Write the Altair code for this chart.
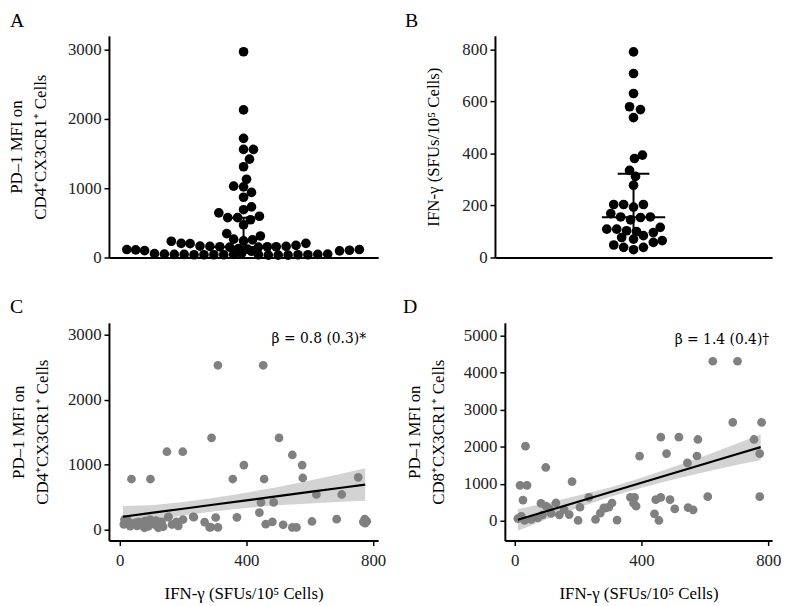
import altair as alt
import pandas as pd

FONT = "Liberation Serif"

# ---------------- Panel A: PD-1 MFI on CD4+CX3CR1+ cells (dot plot) ----------------
a_offset = [0, 0, 0, 0, 1.0, 0.6, 0, 0.3, -1.0, 0, 0.8, 0, 0.8, 0, -2.5,
            -1.6, -0.6, 0.7, 1.6, 0, -1.7, 1.7, -1.0, 0, 0.9,
            -7.3, -6.3, -5.4, -4.4, -3.4, -2.4, -1.4, -0.5,
            0.4, -0.2, 0.8,
            1.5, 2.4, 3.3, 4.3, 5.3, 6.3,
            -11.8, -10.9, -10.0, 9.7, 10.7, 11.7,
            -9, -8, -7, -6, -5, -4, -3, -2, -1,
            1.5, 2.5, 3.5, 4.5, 5.5, 6.5, 7.5, 8.5]
a_mfi = [2970, 2130, 1720, 1560, 1560, 1420, 1310, 1130, 1030, 1020, 940, 870, 730, 690, 645,
         575, 575, 545, 595, 470, 345, 310, 265, 240, 255,
         235, 205, 200, 165, 160, 155, 150, 130,
         120, 60, 90,
         150, 155, 155, 160, 175, 205,
         115, 110, 100, 95, 105, 115,
         55, 50, 45, 45, 40, 40, 40, 40, 45,
         40, 35, 35, 35, 40, 40, 45, 50]
a_stat_name = ["Q1", "Median", "Q3"]
a_stat_value = [45, 150, 575]

# ---------------- Panel B: IFN-gamma SFUs (dot plot) ----------------
b_offset = [0, 0, 0, -0.4, 0.7, 0, 0.9, 0.1, -0.4, 0.2, 0,
            -2, -1, 0, 1,
            -2.3, -1.3, -0.3, 0.7, 1.7,
            -2.7, -1.7, -0.7, 0.3, 2.0, 2.7,
            -1.2, 0, 1.0,
            -2.0, -1.0, 0, 1.0, 2.0, 2.9]
b_sfu = [791, 708, 631, 580, 569, 538, 394, 381, 335, 312, 278,
         204, 204, 194, 204,
         169, 156, 145, 154, 156,
         109, 109, 103, 100, 96, 116,
         77, 71, 84,
         48, 39, 30, 39, 58, 65]
b_stat_name = ["Q1", "Median", "Q3"]
b_stat_value = [75, 155, 322]

cap_half = [1.6, 3.2, 1.6]

# ---------------- Panel C: CD4 PD-1 MFI vs IFN-gamma ----------------
c_ifn = [310, 453, 290, 503, 149, 199, 545, 392, 576, 37, 97, 357, 456, 578, 753, 621, 701, 446, 486, 441,
         232, 154, 303, 370, 685, 607, 774, 769, 482, 461, 516, 545, 558, 284, 310, 268, 287, 234, 200, 179,
         153, 132, 122, 137, 96, 78, 65, 49, 33, 13, 15, 80, 23, 110, 55, 90, 115, 165, 185, 30,
         60, 775, 780]
c_mfi = [2530, 2530, 1414, 1414, 1200, 1200, 1150, 995, 995, 780, 780, 780, 780, 796, 806, 542, 542, 420, 420, 262,
         198, 198, 188, 190, 162, 127, 162, 122, 122, 86, 76, 35, 35, 35, 35, 117, 41, 193, 157, 122,
         193, 122, 30, 46, 157, 30, 81, 107, 56, 81, 157, 137, 157, 80, 60, 50, 140, 80, 60, 110,
         120, 100, 130]
c_fit_x = [10, 100, 200, 300, 400, 500, 600, 700, 775]
c_fit = [200, 258, 323, 388, 452, 517, 582, 646, 695]
c_lo = [35, 140, 220, 283, 335, 375, 405, 430, 445]
c_hi = [365, 376, 426, 493, 569, 659, 759, 862, 945]
c_note = "β = 0.8 (0.3)*"

# ---------------- Panel D: CD8 PD-1 MFI vs IFN-gamma ----------------
d_ifn = [625, 703, 688, 779, 461, 518, 578, 755, 34, 479, 773, 394, 575, 545, 98, 181, 17, 39, 609, 773,
         234, 365, 378, 461, 445, 490, 26, 375, 383, 505, 547, 563, 83, 130, 99, 206, 281, 297, 307, 255,
         323, 200, 441, 455, 156, 172, 141, 115, 88, 73, 52, 31, 10, 21, 109, 270, 286]
d_mfi = [4310, 4310, 2660, 2660, 2260, 2260, 2196, 2196, 2015, 1815, 1815, 1748, 1750, 1562, 1440, 1058, 958, 958, 652, 652,
         634, 634, 634, 634, 570, 570, 560, 473, 393, 321, 357, 295, 470, 481, 393, 366, 348, 370, 480, 35,
         20, 8, 187, 8, 302, 168, 160, 200, 160, 80, 35, 10, 60, 120, 330, 205, 340]
d_fit_x = [10, 100, 200, 300, 400, 500, 600, 700, 776]
d_fit = [27, 258, 514, 770, 1027, 1283, 1540, 1796, 1991]
d_lo = [-270, 40, 350, 640, 890, 1115, 1320, 1510, 1640]
d_hi = [320, 475, 680, 900, 1165, 1450, 1760, 2080, 2340]
d_note = "β = 1.4 (0.4)†"

CD4_TITLE = ["PD–1 MFI on", "CD4⁺CX3CR1⁺ Cells"]
CD8_TITLE = ["PD–1 MFI on", "CD8⁺CX3CR1⁺ Cells"]
IFN_TITLE = "IFN-γ (SFUs/10⁵ Cells)"


def letter(t, dx, dy):
    return alt.Chart(pd.DataFrame({"t": [t]})).mark_text(
        align="left", baseline="top", font=FONT, fontSize=20, color="black"
    ).encode(x=alt.value(dx), y=alt.value(dy), text="t:N")


def dot_panel(offsets, values, stat_names, stat_values, xdom, ydom, yticks, ytitle, w, h, lab, lab_dx, tpad):
    pts = pd.DataFrame({"pos": offsets, "val": values})
    stats = pd.DataFrame({"stat": stat_names, "val": stat_values, "half": cap_half})
    vert = pd.DataFrame({"pos": [0], "val": [stat_values[0]], "val2": [stat_values[2]]})

    def X(f):
        return alt.X(f, scale=alt.Scale(domain=xdom, nice=False, zero=False),
                     axis=alt.Axis(labels=False, ticks=False, title=None))

    def Y(f):
        return alt.Y(f, scale=alt.Scale(domain=ydom, nice=False, zero=False),
                     axis=alt.Axis(values=yticks, format="d", title=ytitle, titlePadding=tpad,
                                   titleLineHeight=24, labelPadding=3))

    dots = alt.Chart(pts).mark_circle(size=95, color="black", opacity=1).encode(
        x=X("pos:Q"), y=Y("val:Q"))
    vline = alt.Chart(vert).mark_rule(color="black", strokeWidth=2).encode(
        x=X("pos:Q"), y=Y("val:Q"), y2="val2:Q")
    caps = alt.Chart(stats).transform_filter(alt.datum.stat != "Q1").transform_calculate(
        pos="-datum.half", pos2="datum.half"
    ).mark_rule(color="black", strokeWidth=2).encode(x=X("pos:Q"), x2="pos2:Q", y=Y("val:Q"))
    return alt.layer(dots, vline, caps, letter(lab, lab_dx, -25)).properties(width=w, height=h)


def scatter_panel(xs, ys, fx, fy, flo, fhi, note, note_xy, xdom, ydom, yticks, ytitle, w, h, lab, lab_dx, tpad):
    pts = pd.DataFrame({"ifn": xs, "mfi": ys})
    band = pd.DataFrame({"ifn": fx, "mfi": fy, "lo": flo, "hi": fhi})
    ann = pd.DataFrame({"ifn": [note_xy[0]], "mfi": [note_xy[1]], "t": [note]})

    def X(f):
        return alt.X(f, scale=alt.Scale(domain=xdom, nice=False, zero=False),
                     axis=alt.Axis(values=[0, 400, 800], format="d", title=IFN_TITLE,
                                   titlePadding=18, labelPadding=7))

    def Y(f):
        return alt.Y(f, scale=alt.Scale(domain=ydom, nice=False, zero=False),
                     axis=alt.Axis(values=yticks, format="d", title=ytitle, titlePadding=tpad,
                                   titleLineHeight=24, labelPadding=3))

    area = alt.Chart(band).mark_area(color="#d3d3d3", opacity=1).encode(
        x=X("ifn:Q"), y=Y("lo:Q"), y2="hi:Q")
    dots = alt.Chart(pts).mark_circle(size=78, color="#808080", opacity=1).encode(
        x=X("ifn:Q"), y=Y("mfi:Q"))
    line = alt.Chart(band).mark_line(color="black", strokeWidth=2.2).encode(
        x=X("ifn:Q"), y=Y("mfi:Q"))
    txt = alt.Chart(ann).mark_text(align="right", baseline="middle", font="DejaVu Serif", fontSize=14,
                                   color="black").encode(x=X("ifn:Q"), y=Y("mfi:Q"), text="t:N")
    return alt.layer(area, dots, line, txt, letter(lab, lab_dx, -26)).properties(width=w, height=h)


A = dot_panel(a_offset, a_mfi, a_stat_name, a_stat_value, [-13.6, 13.6], [0, 3200],
              [0, 1000, 2000, 3000], CD4_TITLE, 272, 224, "A", -100, 18)
B = dot_panel(b_offset, b_sfu, b_stat_name, b_stat_value, [-14, 14], [0, 853],
              [0, 200, 400, 600, 800], IFN_TITLE, 280, 224, "B", -91, 20)
C = scatter_panel(c_ifn, c_mfi, c_fit_x, c_fit, c_lo, c_hi, c_note, (778, 2940),
                  [-34, 816], [-167, 3183], [0, 1000, 2000, 3000], CD4_TITLE, 272, 220, "C", -100, 16)
D = scatter_panel(d_ifn, d_mfi, d_fit_x, d_fit, d_lo, d_hi, d_note, (803, 4893),
                  [-31, 812], [-535, 5348], [0, 1000, 2000, 3000, 4000, 5000], CD8_TITLE, 270, 220, "D", -103, 16)

top = alt.hconcat(A, B, spacing=118, bounds="flush")
bottom = alt.hconcat(C, D, spacing=128, bounds="flush")

chart = alt.vconcat(top, bottom, spacing=32).properties(
    padding=0
).configure_view(stroke=None).configure_axis(
    grid=False, domainColor="black", domainWidth=2, tickColor="black", tickWidth=1.5, tickSize=5,
    labelFont=FONT, labelFontSize=17, labelColor="#222",
    titleFont=FONT, titleFontSize=17, titleFontWeight="normal", titleColor="black"
)

chart.save("out.html", embed_options={"renderer": "svg", "actions": False})
